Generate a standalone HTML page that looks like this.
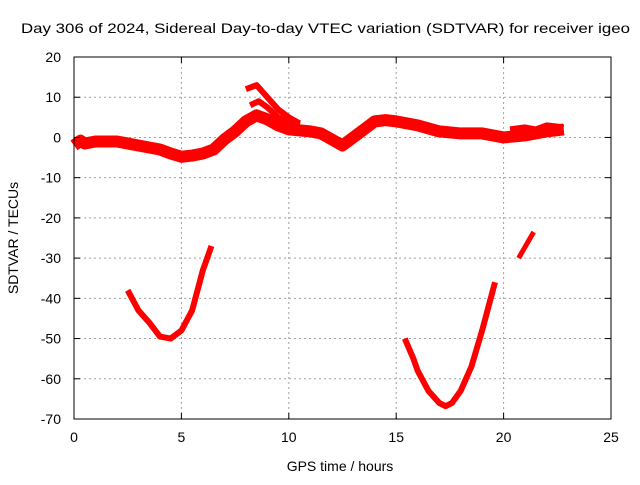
<!DOCTYPE html>
<html><head><meta charset="utf-8"><style>
body{margin:0;background:#fff;width:640px;height:480px;overflow:hidden}
svg text{font-family:"Liberation Sans",sans-serif;font-size:14px;fill:#000}
</style></head><body>
<svg width="640" height="480">
<g id="grid"></g>
<g id="series"></g>
<rect x="74" y="57" width="537" height="362" fill="none" stroke="#000" stroke-width="1"/>
<g id="axes"></g>
<text x="21" y="33" textLength="609" lengthAdjust="spacingAndGlyphs">Day 306 of 2024, Sidereal Day-to-day VTEC variation (SDTVAR) for receiver igeo</text>
<text x="340" y="471" text-anchor="middle">GPS time / hours</text>
<text x="18" y="238" text-anchor="middle" transform="rotate(-90 18 238)">SDTVAR / TECUs</text>
</svg>
<script>
const xTicks=[0,5,10,15,20,25];
const yTicks=[20,10,0,-10,-20,-30,-40,-50,-60,-70];
const mainX=[0,0.3,0.5,1,2,3,4,4.5,5,5.5,6,6.5,7,7.5,8,8.5,9,9.5,10,11,11.5,12,12.5,13,13.5,14,14.5,15,16,17,18,19,20,21,22,22.8];
const mainY=[-2,-0.8,-1.5,-1,-1,-2,-3,-4,-4.8,-4.5,-4,-3,-0.5,1.5,4,5.5,4.5,3,2,1.5,1,-0.5,-2,0,2,4,4.3,4,3,1.5,1,1,0,0.5,1.5,2];
const peakX=[8,8.5,9,9.5,10,10.5];
const peakY=[12,13,10,7,5,3.5];
const midX=[8.2,8.6,9,9.5,10.5];
const midY=[8,9,7.5,5,3];
const lateX=[20.3,21,21.5,22,22.8];
const lateY=[2,2.5,2,3,2.5];
const seg1X=[2.5,2.8,3,3.5,4,4.5,5,5.5,6,6.4];
const seg1Y=[-38,-41,-43,-46,-49.5,-50,-48,-43,-33,-27];
const seg2X=[15.4,15.8,16,16.5,17,17.3,17.6,18,18.5,19,19.6];
const seg2Y=[-50,-55,-58,-63,-66,-66.8,-66,-63,-57,-48,-36];
const seg3X=[20.7,21.4];
const seg3Y=[-30,-23.5];
const NS='http://www.w3.org/2000/svg';
const sx=v=>74+v*537/25, sy=v=>57+(20-v)*362/90;
const grid=document.getElementById('grid'),axes=document.getElementById('axes'),ser=document.getElementById('series');
function mk(t,a,p){const e=document.createElementNS(NS,t);for(const k in a)e.setAttribute(k,a[k]);p.appendChild(e);return e;}
xTicks.forEach(t=>{const x=sx(t);
 if(t>0&&t<25){const g=mk('line',{x1:x,x2:x,y1:57,y2:419,stroke:'#a0a0a0','stroke-dasharray':'2,3'},grid);
 
 }
 const l=mk('line',{x1:x,x2:x,y1:419,y2:413,stroke:'#000'},axes);
 
 
 const l2=mk('line',{x1:x,x2:x,y1:57,y2:63,stroke:'#000'},axes);
 
 
 const tx=mk('text',{x:x,y:442,'text-anchor':'middle'},axes);tx.textContent=t;
 
 });
yTicks.forEach(t=>{const y=sy(t);
 if(t<20&&t>-70){const g=mk('line',{x1:74,x2:611,y1:y,y2:y,stroke:'#a0a0a0','stroke-dasharray':'2,3'},grid);
 
 }
 const l=mk('line',{x1:74,x2:80,y1:y,y2:y,stroke:'#000'},axes);
 
 
 const l2=mk('line',{x1:605,x2:611,y1:y,y2:y,stroke:'#000'},axes);
 
 
 const tx=mk('text',{x:61,y:y+5,'text-anchor':'end'},axes);tx.textContent=t;
 
 });
function line(xs,ys,w,name){const p=mk('polyline',{points:xs.map((v,i)=>sx(v)+','+sy(ys[i])).join(' '),fill:'none',stroke:'#f00','stroke-width':w,'stroke-linejoin':'round','stroke-linecap':'butt'},ser);
 
 }
line(mainX,mainY,12,'series-main');
line(peakX,peakY,6,'series-peak-branch');
line(midX,midY,6,'series-mid-branch');
line(lateX,lateY,6,'series-late-branch');
line(seg1X,seg1Y,6,'series-dip-1');
line(seg2X,seg2Y,6,'series-dip-2');
line(seg3X,seg3Y,5,'series-dip-3');
</script>
</body></html>
